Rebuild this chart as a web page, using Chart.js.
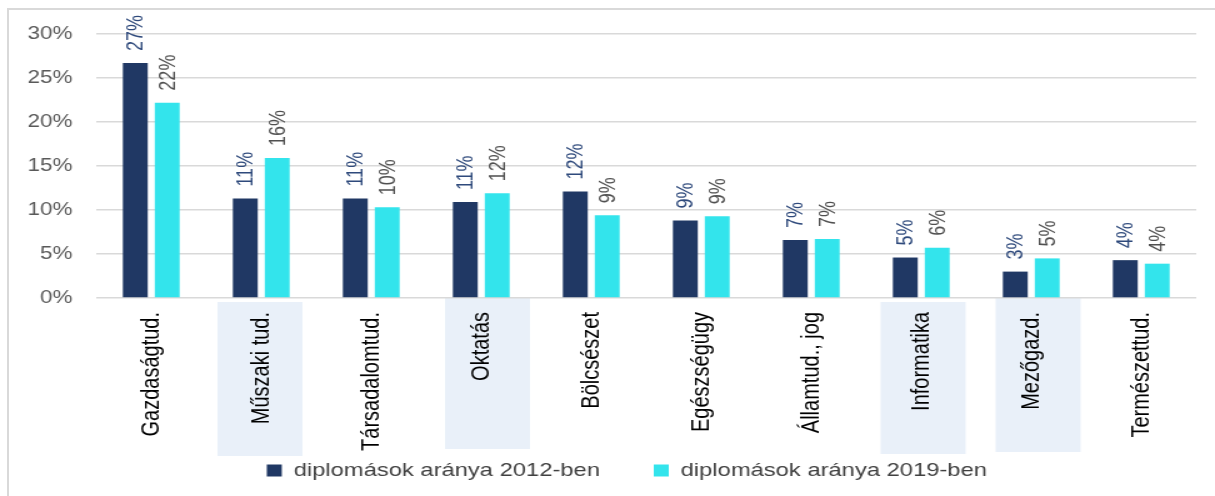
<!DOCTYPE html>
<html lang="hu">
<head>
<meta charset="utf-8">
<title>Diplomások aránya képzési területenként</title>
<script src="https://cdn.jsdelivr.net/npm/chart.js@4.4.1/dist/chart.umd.min.js"></script>
<style>
  body { margin: 0; background: #ffffff; }
  #wrap { position: relative; width: 1215px; height: 496px; overflow: hidden; }
  #frame { position: absolute; left: 7px; top: 8px; right: -10px; bottom: -10px; border-left: 2px solid #d9d9d9; border-top: 2px solid #d9d9d9; }
  #myChart { position: absolute; left: 0; top: 0; }
</style>
</head>
<body>
<div id="wrap">
  <div id="frame"></div>
  <!-- the original picture is a little wider than tall, so the canvas is stretched sideways -->
  <canvas id="myChart" width="972" height="496" style="width:1215px;height:496px"></canvas>
</div>
<script>
'use strict';

// <------------------ DATA ------------------>

let categories = ['Gazdaságtud.', 'Műszaki tud.', 'Társadalomtud.', 'Oktatás', 'Bölcsészet',
  'Egészségügy', 'Államtud., jog', 'Informatika', 'Mezőgazd.', 'Természettud.'];

let share2012 = [26.7, 11.3, 11.3, 10.9, 12.1, 8.8, 6.6, 4.6, 3.0, 4.3];
let share2019 = [22.2, 15.9, 10.3, 11.9, 9.4, 9.3, 6.7, 5.7, 4.5, 3.9];

let seriesNames = ['diplomások aránya 2012-ben', 'diplomások aránya 2019-ben'];

let yTicks = [0, 5, 10, 15, 20, 25, 30];

let highlighted = ['Műszaki tud.', 'Oktatás', 'Informatika', 'Mezőgazd.'];


// <------------------ STYLE ------------------>

let navy = '#203864';
let cyan = '#33e4ec';
let labelColors = ['#2f4a7c', '#505050'];
let fontName = 'Liberation Sans';

// the shaded boxes were placed by hand, so they sit a little differently
// (offset from the tick, top and bottom below the axis, canvas pixels)
let boxPlacement = {
  'Műszaki tud.': { dx: -1, top: 4, bottom: 158 },
  'Oktatás': { dx: 5, top: -1, bottom: 151 },
  'Informatika': { dx: 1.5, top: 4, bottom: 156 },
  'Mezőgazd.': { dx: 5.5, top: -1, bottom: 154 }
};


// <------------------ PLUGINS ------------------>

// light blue boxes behind some of the category names
let categoryBoxes = {
  id: 'categoryBoxes',
  beforeDraw(chart) {
    let ctx = chart.ctx;
    let xScale = chart.scales.x;
    let axisY = chart.chartArea.bottom;
    ctx.save();
    ctx.fillStyle = '#e9f0f9';
    for (let i = 0; i < categories.length; i++) {
      if (highlighted.includes(categories[i])) {
        let p = boxPlacement[categories[i]];
        let cx = xScale.getPixelForValue(i) + p.dx;
        ctx.fillRect(cx - 34, axisY + p.top, 68, p.bottom - p.top);
      }
    }
    ctx.restore();
  }
};

// the long category names run down into the legend band, so let them draw there;
// the legend sits a bit right of centre
let layoutTweaks = {
  id: 'layoutTweaks',
  afterLayout(chart) {
    chart.scales.x.bottom = chart.height;
    chart.legend.left += 12;
    chart.legend.right += 12;
  }
};

// rotated value labels above the bars
let valueLabels = {
  id: 'valueLabels',
  afterDatasetsDraw(chart) {
    let ctx = chart.ctx;
    ctx.save();
    ctx.font = '18px ' + fontName;
    ctx.textAlign = 'left';
    ctx.textBaseline = 'middle';
    chart.data.datasets.forEach((ds, d) => {
      let meta = chart.getDatasetMeta(d);
      ctx.fillStyle = labelColors[d];
      meta.data.forEach((bar, i) => {
        ctx.save();
        ctx.translate(bar.x, bar.y - 12);
        ctx.rotate(-Math.PI / 2);
        ctx.fillText(Math.round(ds.data[i]) + '%', 0, 1);
        ctx.restore();
      });
    });
    ctx.restore();
  }
};


// <------------------ CHART ------------------>

let ctx = document.getElementById('myChart').getContext('2d');

let myChartObj = {
  type: 'bar',
  data: {
    labels: categories,
    datasets: [{
      label: seriesNames[0],
      data: share2012,
      backgroundColor: navy,
      borderWidth: 0
    },
    {
      label: seriesNames[1],
      data: share2019,
      backgroundColor: cyan,
      borderWidth: 0
    }]
  },
  options: {
    responsive: false,
    animation: false,
    devicePixelRatio: 1,
    layout: {
      padding: { top: 34, left: 22, right: 15, bottom: 6 }
    },
    datasets: {
      bar: {
        categoryPercentage: 0.58,
        barPercentage: 0.78
      }
    },
    scales: {
      x: {
        grid: { display: false, drawTicks: false },
        border: { display: false },
        ticks: {
          maxRotation: 90,
          minRotation: 90,
          padding: 14,
          color: '#000000',
          font: { family: fontName, size: 20 }
        },
        afterFit(scale) {
          scale.height = 120;
        }
      },
      y: {
        min: 0,
        max: 30,
        afterBuildTicks(scale) {
          scale.ticks = yTicks.map(v => ({ value: v }));
        },
        grid: { color: '#d9d9d9', lineWidth: 1.4, drawTicks: false },
        border: { display: false },
        ticks: {
          padding: 19,
          color: '#595959',
          font: { family: fontName, size: 18 },
          callback: v => v + '%'
        },
        afterFit(scale) {
          scale.width = 55;
        }
      }
    },
    plugins: {
      tooltip: { enabled: false },
      legend: {
        position: 'bottom',
        labels: {
          boxWidth: 12,
          boxHeight: 12,
          padding: 43,
          color: '#404040',
          font: { family: fontName, size: 19 }
        }
      }
    }
  },
  plugins: [categoryBoxes, layoutTweaks, valueLabels]
};

const myChart = new Chart(ctx, myChartObj);
</script>
</body>
</html>
